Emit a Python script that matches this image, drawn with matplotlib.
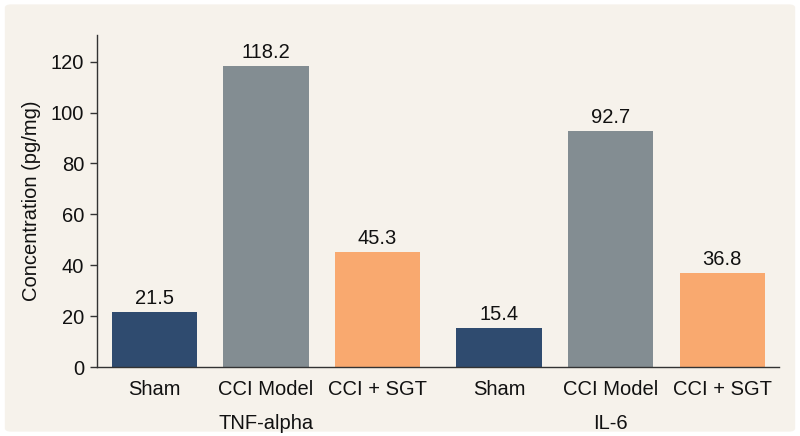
import matplotlib
matplotlib.use("Agg")
import matplotlib.pyplot as plt
from matplotlib.patches import FancyBboxPatch

plt.rcParams['font.family'] = ['Liberation Sans', 'DejaVu Sans']

groups = ["TNF-alpha", "IL-6"]
treatments = ["Sham", "CCI Model", "CCI + SGT"]
tnf_values = [21.5, 118.2, 45.3]
il6_values = [15.4, 92.7, 36.8]
colors = ["#2f4b6f", "#838d92", "#f9a96f"]
yticks = [0, 20, 40, 60, 80, 100, 120]

fig = plt.figure(figsize=(8, 4.36), dpi=100, facecolor="white")
bg = FancyBboxPatch((0.006, 0.01), 0.988, 0.98, boxstyle="round,pad=0,rounding_size=0.008",
                    transform=fig.transFigure, facecolor="#f6f2eb", edgecolor="none", zorder=-10)
fig.patches.append(bg)

ax = fig.add_axes([0.121, 0.158, 0.853, 0.762])
ax.set_facecolor("none")

group_offset = 3.09
width = 0.765
fs = 14.5
positions = []
labels = []
for gi, vals in enumerate([tnf_values, il6_values]):
    for i, v in enumerate(vals):
        x = gi * group_offset + i
        ax.bar(x, v, width=width, color=colors[i], edgecolor="none")
        ax.text(x, v + 1.6, f"{v:.1f}", ha="center", va="bottom", fontsize=fs, color="#111111")
        positions.append(x)
        labels.append(treatments[i])
    ax.text(gi * group_offset + 1, -0.17, groups[gi], transform=ax.get_xaxis_transform(),
            ha="center", va="center", fontsize=fs, color="#111111")

ax.set_xticks(positions)
ax.set_xticklabels(labels, fontsize=fs, color="#111111")
ax.tick_params(axis="x", length=0, pad=9)
ax.set_yticks(yticks)
ax.set_yticklabels([str(t) for t in yticks], fontsize=fs, color="#111111")
ax.tick_params(axis="y", length=5, width=1, color="#333333", pad=4)
ax.set_ylim(0, 130.5)
ax.set_xlim(-0.516, positions[-1] + 0.51)
ax.set_ylabel("Concentration (pg/mg)", fontsize=fs, color="#111111", labelpad=7)
for s in ["top", "right"]:
    ax.spines[s].set_visible(False)
for s in ["left", "bottom"]:
    ax.spines[s].set_color("#333333")
    ax.spines[s].set_linewidth(1.0)

fig.savefig("out.png", dpi=100, facecolor="white")
